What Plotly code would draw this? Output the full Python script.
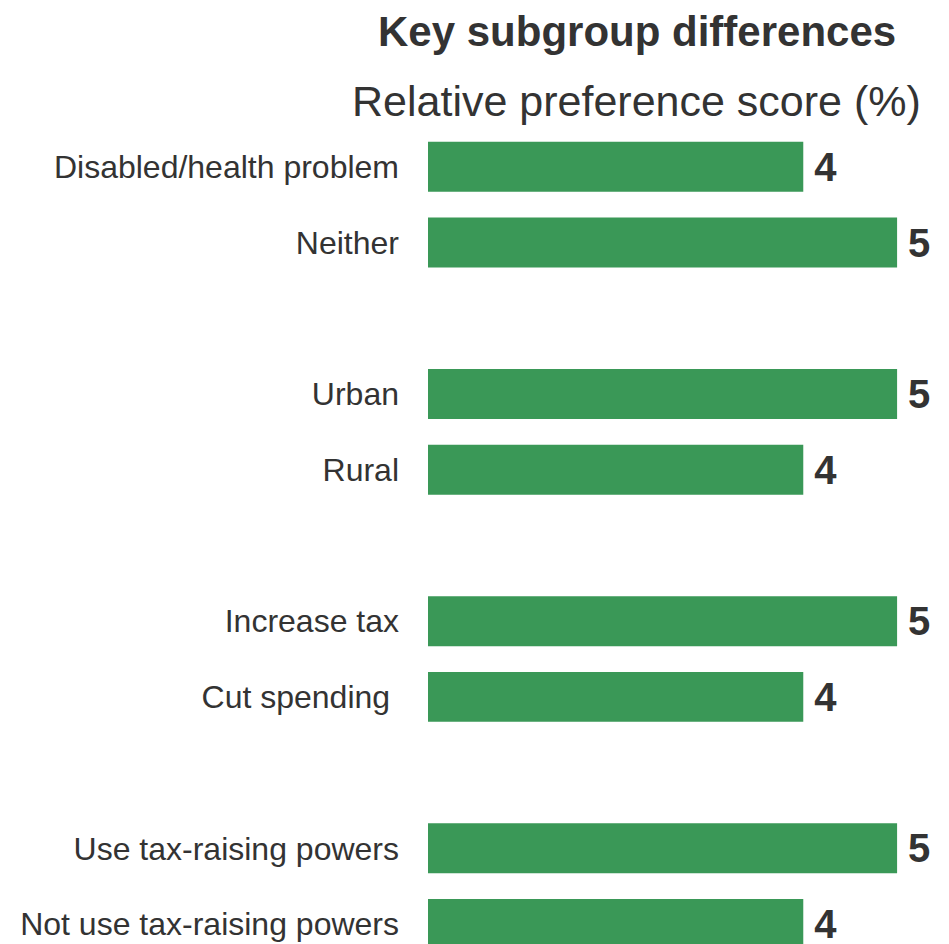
import plotly.graph_objects as go

# Data
categories = [
    "Disabled/health problem", "Neither", " ",
    "Urban", "Rural", "  ",
    "Increase tax", "Cut spending\u00a0", "   ",
    "Use tax-raising powers", "Not use tax-raising powers",
]
bar_categories = [
    "Disabled/health problem", "Neither",
    "Urban", "Rural",
    "Increase tax", "Cut spending\u00a0",
    "Use tax-raising powers", "Not use tax-raising powers",
]
scores = [4, 5, 5, 4, 5, 4, 5, 4]

title_text = "Key subgroup differences"
subtitle_text = "Relative preference score (%)"

FONT = "Liberation Sans, Arial, sans-serif"
GREEN = "#3a9857"
TEXT = "#333333"

fig = go.Figure()
fig.add_trace(go.Bar(
    x=scores,
    y=bar_categories,
    orientation="h",
    marker=dict(color=GREEN, line=dict(width=0)),
    text=[str(v) for v in scores],
    texttemplate="\u2009%{text}",
    textposition="outside",
    constraintext="none",
    cliponaxis=False,
    textfont=dict(family=FONT, size=40, color=TEXT, weight="bold"),
    hoverinfo="skip",
))

W, H = 949, 944
ml, mr, mt, mb = 420, 13, 121, 8
pw, ph = W - ml - mr, H - mt - mb
plot_left_win = 428
plot_bottom_win = 944

def px_x(xw):
    return (xw - plot_left_win) / pw

def px_y(yw):
    return (plot_bottom_win - yw) / ph

fig.update_layout(
    width=W, height=H,
    margin=dict(l=ml, r=mr, t=mt, b=mb, pad=0),
    paper_bgcolor="white", plot_bgcolor="white",
    showlegend=False,
    bargap=0.34,
    font=dict(family=FONT, color=TEXT),
    xaxis=dict(range=[0, 5.5], visible=False, fixedrange=True),
    yaxis=dict(
        type="category",
        categoryorder="array",
        categoryarray=categories,
        range=[10.264, -0.5],
        showgrid=False, zeroline=False, showline=False,
        ticks="", ticklabelstandoff=28,
        tickfont=dict(family=FONT, size=32, color=TEXT),
        fixedrange=True,
    ),
    annotations=[
        dict(text=title_text, xref="paper", yref="paper",
             x=px_x(637), y=px_y(31),
             xanchor="center", yanchor="middle", showarrow=False,
             font=dict(family=FONT, size=42, color=TEXT, weight="bold")),
        dict(text=subtitle_text, xref="paper", yref="paper",
             x=px_x(636), y=px_y(101),
             xanchor="center", yanchor="middle", showarrow=False,
             font=dict(family=FONT, size=43, color=TEXT)),
    ],
)

fig.write_html("out.html")
